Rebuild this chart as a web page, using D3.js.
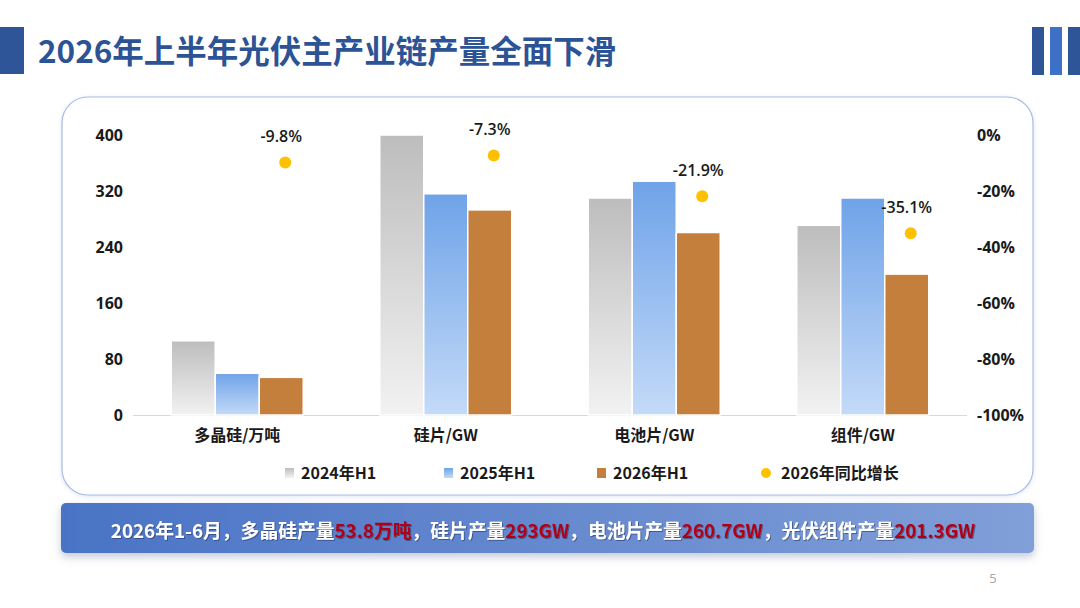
<!DOCTYPE html>
<html><head><meta charset="utf-8">
<script src="https://cdn.jsdelivr.net/npm/d3@7/dist/d3.min.js"></script>
<style>
html,body{margin:0;padding:0;background:#fff;}
svg{display:block;font-family:"Open Sans","Noto Sans CJK SC",sans-serif;}
</style></head>
<body>
<svg id="c" width="1080" height="608"></svg>
<script>
const title = "2026年上半年光伏主产业链产量全面下滑";
const categories = ["多晶硅/万吨","硅片/GW","电池片/GW","组件/GW"];
const seriesNames = ["2024年H1","2025年H1","2026年H1"];
const values2024 = [106, 400, 310, 271];
const values2025 = [59.6, 316, 334, 310];
const values2026 = [53.8, 293, 260.7, 201.3];
const growth = [-9.8, -7.3, -21.9, -35.1];
const growthName = "2026年同比增长";
const leftTicks = [0, 80, 160, 240, 320, 400];
const rightTicks = [0, -20, -40, -60, -80, -100];
const summaryParts = [
  ["2026年1-6月，多晶硅产量", false], ["53.8万吨", true],
  ["，硅片产量", false], ["293GW", true],
  ["，电池片产量", false], ["260.7GW", true],
  ["，光伏组件产量", false], ["201.3GW", true]
];
const pageNo = "5";

const svg = d3.select("#c");
const defs = svg.append("defs");

function vgrad(id, c1, c2){
  const g = defs.append("linearGradient").attr("id", id).attr("x1",0).attr("y1",0).attr("x2",0).attr("y2",1);
  g.append("stop").attr("offset","0%").attr("stop-color",c1);
  g.append("stop").attr("offset","100%").attr("stop-color",c2);
}
vgrad("gGray", "#bdbdbd", "#f2f2f2");
vgrad("gBlue", "#6fa3e8", "#c4daf8");
const hg = defs.append("linearGradient").attr("id","gBanner").attr("x1",0).attr("y1",0).attr("x2",1).attr("y2",0);
hg.append("stop").attr("offset","0%").attr("stop-color","#4a73c5");
hg.append("stop").attr("offset","100%").attr("stop-color","#819fd8");
const sh = defs.append("filter").attr("id","shadow").attr("x","-5%").attr("y","-20%").attr("width","110%").attr("height","160%");
sh.append("feDropShadow").attr("dx",0).attr("dy",4).attr("stdDeviation",4).attr("flood-color","#7a8aa8").attr("flood-opacity",0.45);
const sh2 = defs.append("filter").attr("id","shadow2").attr("x","-5%").attr("y","-5%").attr("width","110%").attr("height","115%");
sh2.append("feDropShadow").attr("dx",0).attr("dy",1).attr("stdDeviation",2).attr("flood-color","#9fb3d9").attr("flood-opacity",0.35);
const ts = defs.append("filter").attr("id","tshadow").attr("x","-5%").attr("y","-30%").attr("width","110%").attr("height","160%");
ts.append("feDropShadow").attr("dx",1).attr("dy",1).attr("stdDeviation",0.6).attr("flood-color","#1d2f5a").attr("flood-opacity",0.55);

// header decorations
svg.append("rect").attr("x",0).attr("y",27).attr("width",24).attr("height",47).attr("fill","#2d5598");
[[1032,"#2d5598"],[1050,"#3e70c8"],[1068,"#2d5598"]].forEach(d=>{
  svg.append("rect").attr("x",d[0]).attr("y",27).attr("width",12).attr("height",48).attr("fill",d[1]);
});
svg.append("text").attr("x",38).attr("y",63).attr("fill","#2c5395")
  .attr("font-family","'Noto Sans CJK SC',sans-serif").attr("font-weight",700).attr("font-size",31.5)
  .text(title);

// panel
svg.append("rect").attr("x",62).attr("y",97).attr("width",971).attr("height",398).attr("rx",26)
  .attr("fill","#fff").attr("stroke","#a8bde4").attr("stroke-width",1.2).attr("filter","url(#shadow2)");

// scales
const y = d3.scaleLinear().domain([0,400]).range([415,135]);
const y2 = d3.scaleLinear().domain([-100,0]).range([415,135]);
const x0 = d3.scaleBand().domain(categories).range([133,967]).paddingInner(0.367).paddingOuter(0.1835);
const x1 = d3.scaleBand().domain(seriesNames).range([0, x0.bandwidth()]).padding(0);
const fills = {"2024年H1":"url(#gGray)","2025年H1":"url(#gBlue)","2026年H1":"#c47f3d"};
const seriesVals = [values2024, values2025, values2026];

// axes (labels only)
const axL = svg.append("g").attr("transform","translate(123,0)")
  .call(d3.axisLeft(y).tickValues(leftTicks).tickSize(0).tickPadding(0));
axL.select(".domain").remove();
const axR = svg.append("g").attr("transform","translate(977,0)")
  .call(d3.axisRight(y2).tickValues(rightTicks).tickSize(0).tickPadding(0).tickFormat(d=>d+"%"));
axR.select(".domain").remove();
svg.selectAll(".tick text").attr("font-size",16).attr("font-weight",700).attr("fill","#1a1a1a")
  .attr("font-family","'Open Sans',sans-serif");

// baseline
svg.append("line").attr("x1",133).attr("x2",967).attr("y1",y(0)+0.5).attr("y2",y(0)+0.5)
  .attr("stroke","#d3d9e4").attr("stroke-width",1.2);

// bars
const rows = [];
categories.forEach((c,i)=>seriesNames.forEach((s,j)=>rows.push({c, s, v: seriesVals[j][i]})));
svg.append("g").selectAll("rect").data(rows).join("rect")
  .attr("x", d=>x0(d.c)+x1(d.s))
  .attr("y", d=>y(d.v))
  .attr("width", x1.bandwidth())
  .attr("height", d=>y(0)-y(d.v))
  .attr("fill", d=>fills[d.s])
  .attr("stroke","#fff").attr("stroke-width",1.5);

// growth dots + labels
const gd = categories.map((c,i)=>({c, g: growth[i]}));
const cx = d=>x0(d.c)+x1("2026年H1")+x1.bandwidth()/2+4;
svg.append("g").selectAll("circle").data(gd).join("circle")
  .attr("cx", cx).attr("cy", d=>y2(d.g)).attr("r",6).attr("fill","#ffc000");
svg.append("g").selectAll("text").data(gd).join("text")
  .attr("x", d=>cx(d)-4).attr("y", d=>y2(d.g)-20)
  .attr("text-anchor","middle").attr("font-size",16).attr("font-weight",600).attr("fill","#1a1a1a")
  .text(d=>d.g.toFixed(1)+"%");

// category labels
svg.append("g").selectAll("text").data(categories).join("text")
  .attr("x", d=>x0(d)+x0.bandwidth()/2).attr("y",441)
  .attr("text-anchor","middle").attr("font-size",16).attr("font-weight",700).attr("fill","#1a1a1a")
  .attr("font-family","'Noto Sans CJK SC',sans-serif")
  .text(d=>d);

// legend
const legendItems = [
  {n:seriesNames[0], x:285, type:"rect"},
  {n:seriesNames[1], x:444, type:"rect"},
  {n:seriesNames[2], x:597, type:"rect"},
  {n:growthName, x:762, type:"dot"}
];
const lg = svg.append("g");
legendItems.forEach(it=>{
  if(it.type==="rect"){
    lg.append("rect").attr("x",it.x).attr("y",468).attr("width",9).attr("height",10).attr("fill",fills[it.n]);
    lg.append("text").attr("x",it.x+16).attr("y",479).attr("font-size",16).attr("font-weight",700)
      .attr("fill","#1a1a1a").attr("font-family","'Noto Sans CJK SC',sans-serif").text(it.n);
  } else {
    lg.append("circle").attr("cx",it.x+4).attr("cy",473).attr("r",5).attr("fill","#ffc000");
    lg.append("text").attr("x",it.x+19).attr("y",479).attr("font-size",16).attr("font-weight",700)
      .attr("fill","#1a1a1a").attr("font-family","'Noto Sans CJK SC',sans-serif").text(it.n);
  }
});

// banner
svg.append("rect").attr("x",61).attr("y",503).attr("width",973).attr("height",50).attr("rx",5)
  .attr("fill","url(#gBanner)").attr("filter","url(#shadow)");
const bt = svg.append("text").attr("x",543).attr("y",538).attr("text-anchor","middle")
  .attr("font-size",18.8).attr("font-weight",700).attr("font-family","'Noto Sans CJK SC',sans-serif")
  .attr("filter","url(#tshadow)");
summaryParts.forEach(p=>{
  bt.append("tspan").attr("fill", p[1] ? "#b00018" : "#ffffff").text(p[0]);
});

// page number
svg.append("text").attr("x",993).attr("y",583).attr("text-anchor","middle").attr("font-size",13)
  .attr("fill","#a6a6a6").attr("font-family","'Open Sans',sans-serif").text(pageNo);
</script>
</body></html>
